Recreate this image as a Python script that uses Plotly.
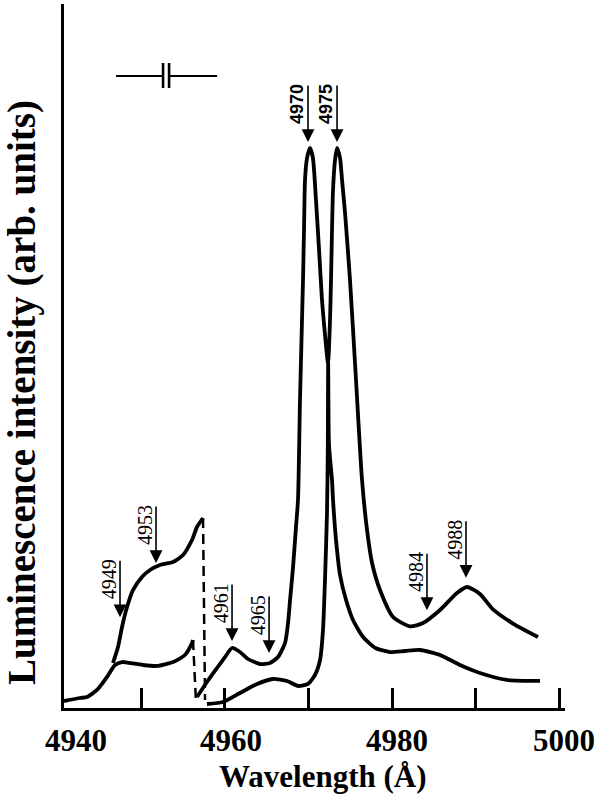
import plotly.graph_objects as go

# ---------------- data ----------------
# Spectrum A : left part (lower trace) + right part (upper trace)
a_left_wl = [4940.75, 4942.66, 4943.50, 4944.70, 4945.89, 4946.85, 4947.69, 4948.29,
             4950.20, 4951.87, 4953.79, 4955.22, 4956.06, 4956.18]
a_left_int = [0.99, 1.42, 1.56, 2.56, 4.40, 6.11, 6.53, 6.45,
              6.11, 5.97, 6.53, 7.53, 9.23, 9.66]
a_jump_wl = [4956.18, 4956.54]
a_jump_int = [9.66, 0.85]
a_right_wl = [4956.66, 4957.85, 4959.05, 4960.01, 4960.85, 4961.80, 4962.76, 4964.20,
              4965.39, 4966.35, 4967.19, 4967.55, 4967.79, 4968.15, 4968.50, 4968.74,
              4968.98, 4969.34, 4969.46, 4969.58, 4969.82, 4970.18, 4970.53, 4970.89,
              4971.26, 4971.61, 4971.97, 4972.33, 4972.57, 4972.69, 4972.81, 4972.93,
              4973.17, 4973.41, 4973.77, 4974.01, 4974.37, 4974.96, 4975.68,
              4976.40, 4977.00, 4977.60, 4978.55, 4980.11, 4982.14, 4983.70, 4985.73,
              4987.76, 4988.96, 4990.51, 4992.07, 4994.46, 4997.45]
a_right_int = [1.56, 3.69, 5.68, 7.24, 8.52, 7.95, 6.96, 6.25,
               6.39, 7.24, 9.23, 12.07, 15.34, 20.03, 25.71, 29.55,
               43.75, 60.80, 67.90, 75.00, 78.10, 79.55, 78.10, 72.16,
               65.06, 57.95, 53.00, 49.01, 55.11, 60.80, 67.90, 73.58,
               77.84, 79.55, 78.10, 75.00, 70.31, 60.80, 46.59,
               32.39, 25.28, 20.60, 16.76, 12.93, 11.60, 12.07, 13.92,
               16.34, 17.19, 16.20, 14.00, 12.00, 10.09]

# Spectrum B : left part (upper trace) + right part (lower trace)
b_left_wl = [4946.61, 4947.21, 4947.69, 4948.29, 4949.00, 4950.08, 4951.04, 4952.23,
             4953.79, 4954.99, 4956.06, 4956.66, 4957.38]
b_left_int = [6.39, 8.66, 11.51, 14.35, 16.76, 18.61, 19.60, 20.31,
              20.74, 21.73, 23.86, 25.71, 26.99]
b_jump_wl = [4957.38, 4957.62]
b_jump_int = [26.99, 1.14]
b_right_wl = [4957.85, 4959.77, 4961.80, 4963.84, 4965.75, 4967.43, 4968.74, 4969.94,
              4970.77, 4971.38, 4971.73, 4971.97, 4972.21, 4972.31, 4972.35, 4972.45,
              4972.81, 4972.93, 4973.29, 4973.77, 4974.49, 4975.32, 4976.52, 4978.00,
              4979.75, 4981.54, 4983.34, 4985.73, 4988.12, 4990.51, 4993.74, 4997.69]
b_right_int = [0.57, 0.85, 2.13, 3.41, 4.12, 3.84, 3.13, 3.41,
               4.69, 6.82, 11.08, 18.18, 27.70, 37.36, 49.00, 37.36,
               32.39, 29.55, 23.86, 18.89, 15.34, 12.50, 10.09, 8.52,
               7.95, 8.10, 8.24, 7.53, 6.11, 4.97, 3.98, 3.84]

# marked lines (arrow tips) and their labels
mark_wl = [4947.45, 4951.76, 4960.85, 4965.28, 4969.94, 4973.41, 4984.17, 4988.84]
mark_int = [12.9, 20.6, 9.5, 7.8, 80.4, 80.4, 13.9, 18.5]
mark_labels = ["4949", "4953", "4961", "4965", "4970", "4975", "4984", "4988"]
mark_bold = [False, False, False, False, True, True, False, False]

# x-axis labels
x_label_vals = [4940, 4960, 4980, 5000]
x_label_text = ["4940", "4960", "4980", "5000"]
x_label_shift = [18, 6, 5, 5]

# slit-width bar
slit_wl = [4946.98, 4952.60, 4953.32, 4959.06]
slit_int = [89.77, 88.07, 91.62]

X_RANGE = [4940.75, 5000.68]
Y_RANGE = [0, 100]

# ---------------- figure ----------------
BLACK = "black"
fig = go.Figure()


def solid(x, y):
    fig.add_trace(go.Scatter(x=x, y=y, mode="lines",
                             line=dict(color=BLACK, width=3.8, shape="spline", smoothing=0.6),
                             showlegend=False, hoverinfo="skip"))


def dashed(x, y):
    fig.add_trace(go.Scatter(x=x, y=y, mode="lines",
                             line=dict(color=BLACK, width=2.5, dash="10px,6px"),
                             showlegend=False, hoverinfo="skip"))


solid(a_left_wl, a_left_int)
dashed(a_jump_wl, a_jump_int)
solid(a_right_wl, a_right_int)
solid(b_left_wl, b_left_int)
dashed(b_jump_wl, b_jump_int)
solid(b_right_wl, b_right_int)

# slit-width symbol
fig.add_trace(go.Scatter(x=[slit_wl[0], slit_wl[1]], y=[slit_int[0]] * 2, mode="lines",
                         line=dict(color=BLACK, width=2.2), showlegend=False, hoverinfo="skip"))
fig.add_trace(go.Scatter(x=[slit_wl[2], slit_wl[3]], y=[slit_int[0]] * 2, mode="lines",
                         line=dict(color=BLACK, width=2.2), showlegend=False, hoverinfo="skip"))
for xv in (slit_wl[1], slit_wl[2]):
    fig.add_trace(go.Scatter(x=[xv, xv], y=[slit_int[1], slit_int[2]], mode="lines",
                             line=dict(color=BLACK, width=2.6), showlegend=False, hoverinfo="skip"))

annotations = []
for wl, it, lab, bold in zip(mark_wl, mark_int, mark_labels, mark_bold):
    annotations.append(dict(x=wl, y=it, xref="x", yref="y", text="", showarrow=True,
                            ax=0, ay=-58, axref="pixel", ayref="pixel",
                            arrowhead=2, arrowsize=1.6, arrowwidth=1.6, arrowcolor=BLACK))
    if bold:
        f = dict(family="Liberation Sans", size=18, color=BLACK, weight="bold")
    else:
        f = dict(family="Liberation Serif", size=20, color=BLACK)
    annotations.append(dict(x=wl, y=it, xref="x", yref="y", text=lab, showarrow=False,
                            textangle=-90, xanchor="center", yanchor="middle",
                            xshift=-11, yshift=38, font=f))

serif_bold = dict(family="Liberation Serif", size=31, color=BLACK, weight="bold")
for v, t, s in zip(x_label_vals, x_label_text, x_label_shift):
    xp = (v - X_RANGE[0]) / (X_RANGE[1] - X_RANGE[0])
    annotations.append(dict(x=xp, y=0, xref="paper", yref="paper", text=t, showarrow=False,
                            xanchor="center", yanchor="middle", xshift=s, yshift=-32,
                            font=serif_bold))

annotations.append(dict(x=0.516, y=-0.098, xref="paper", yref="paper",
                        text="Wavelength (Å)", showarrow=False,
                        xanchor="center", yanchor="middle", font=serif_bold))
annotations.append(dict(x=-0.0838, y=0.4474, xref="paper", yref="paper",
                        text="Luminescence intensity (arb. units)", showarrow=False,
                        textangle=-90, xanchor="center", yanchor="middle",
                        font=dict(family="Liberation Serif", size=39, color=BLACK, weight="bold")))

fig.update_layout(
    width=611, height=794,
    margin=dict(l=64, r=46, t=4, b=86),
    paper_bgcolor="white", plot_bgcolor="white",
    annotations=annotations,
    xaxis=dict(range=X_RANGE, showgrid=False, zeroline=False,
               showline=True, linecolor=BLACK, linewidth=3,
               ticks="inside", ticklen=20, tickwidth=3, tickcolor=BLACK,
               tick0=4940, dtick=10, showticklabels=False),
    yaxis=dict(range=Y_RANGE, showgrid=False, zeroline=False,
               showline=True, linecolor=BLACK, linewidth=3,
               ticks="", showticklabels=False),
)

fig.write_html("out.html")
